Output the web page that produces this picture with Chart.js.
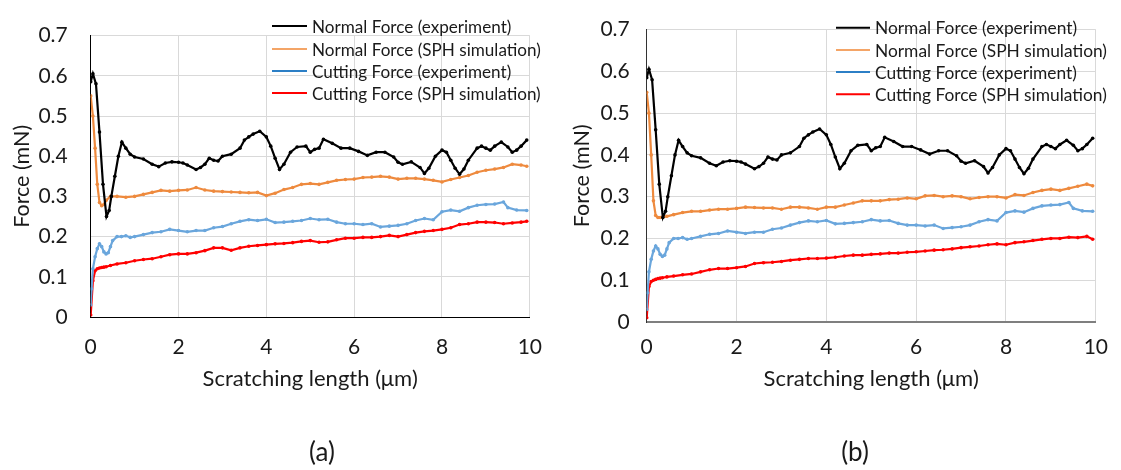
<!DOCTYPE html>
<html>
<head>
<meta charset="utf-8">
<script src="https://cdn.jsdelivr.net/npm/chart.js@4.4.1/dist/chart.umd.min.js"></script>
<style>
  body { margin: 0; background: #fff; }
  #wrap { position: relative; width: 1121px; height: 470px; overflow: hidden; }
  canvas { position: absolute; top: 0; }
  .tag { position: absolute; font-family: Lato, sans-serif; font-size: 26px; color: #1a1a1a; transform: translate(-50%, -50%); }
</style>
</head>
<body>
<div id="wrap">
  <canvas id="chartA" width="560" height="470" style="left:0"></canvas>
  <canvas id="chartB" width="561" height="470" style="left:560px"></canvas>
  <div class="tag" style="left:322px; top:451px">(a)</div>
  <div class="tag" style="left:855px; top:451px">(b)</div>
</div>
<script>
// Series labels
const labels = [
  "Normal Force (experiment)",
  "Normal Force (SPH simulation)",
  "Cutting Force (experiment)",
  "Cutting Force (SPH simulation)",
];

// Normal force, experiment (same run on both panels)
const normalExpX = [0, 0.05, 0.12, 0.2, 0.28, 0.36, 0.42, 0.47, 0.55, 0.63, 0.71, 0.8, 0.9, 1.0, 1.2, 1.4, 1.55, 1.7, 1.85, 2.0,
  2.1, 2.2, 2.4, 2.5, 2.6, 2.7, 2.8, 2.9, 3.0, 3.2, 3.4, 3.5, 3.6, 3.7, 3.85, 4.0, 4.1, 4.2, 4.3, 4.4,
  4.55, 4.7, 4.9, 5.0, 5.1, 5.2, 5.3, 5.5, 5.7, 5.9, 6.1, 6.3, 6.5, 6.7, 6.9, 7.0, 7.1, 7.3, 7.5, 7.6,
  7.7, 7.85, 8.0, 8.1, 8.2, 8.3, 8.4, 8.5, 8.6, 8.8, 8.9, 9.0, 9.1, 9.2, 9.35, 9.5, 9.6, 9.7, 9.8, 9.93];
const normalExpY = [0.585, 0.605, 0.58, 0.46, 0.33, 0.25, 0.265, 0.30, 0.35, 0.40, 0.435, 0.42, 0.405, 0.398, 0.393, 0.38, 0.374, 0.383, 0.386, 0.385,
  0.383, 0.378, 0.367, 0.372, 0.38, 0.395, 0.39, 0.388, 0.40, 0.405, 0.42, 0.44, 0.448, 0.455, 0.462, 0.448, 0.425, 0.395, 0.367, 0.38,
  0.41, 0.423, 0.425, 0.41, 0.417, 0.42, 0.442, 0.432, 0.42, 0.42, 0.412, 0.402, 0.41, 0.41, 0.398, 0.385, 0.38, 0.386, 0.372, 0.357,
  0.37, 0.40, 0.415, 0.41, 0.39, 0.37, 0.355, 0.368, 0.39, 0.42, 0.425, 0.42, 0.415, 0.425, 0.435, 0.423, 0.41, 0.415, 0.425, 0.44];

// Cutting force, experiment (same run on both panels)
const cuttingExpX = [0, 0.02, 0.05, 0.1, 0.15, 0.2, 0.25, 0.3, 0.35, 0.4, 0.45, 0.5, 0.6, 0.7, 0.8, 0.9, 1.0,
  1.2, 1.4, 1.6, 1.8, 2.0, 2.2, 2.4, 2.6, 2.8, 3.0, 3.2, 3.4, 3.6, 3.8, 4.0, 4.2, 4.4, 4.6, 4.8, 5.0,
  5.2, 5.4, 5.6, 5.8, 6.0, 6.2, 6.4, 6.6, 6.8, 7.0, 7.2, 7.4, 7.6, 7.8, 8.0, 8.2, 8.4, 8.6, 8.8, 9.0,
  9.2, 9.4, 9.5, 9.7, 9.93];
const cuttingExpY = [0.03, 0.07, 0.12, 0.15, 0.17, 0.182, 0.175, 0.162, 0.157, 0.16, 0.175, 0.19, 0.2, 0.2, 0.202, 0.198, 0.2,
  0.205, 0.21, 0.212, 0.218, 0.215, 0.212, 0.215, 0.215, 0.222, 0.225, 0.232, 0.238, 0.242, 0.24, 0.243, 0.235, 0.236, 0.238, 0.24, 0.245,
  0.242, 0.243, 0.236, 0.232, 0.232, 0.23, 0.232, 0.224, 0.226, 0.228, 0.232, 0.24, 0.245, 0.242, 0.262, 0.266, 0.263, 0.272, 0.278, 0.28,
  0.281, 0.286, 0.272, 0.266, 0.265];

// SPH simulations share one x grid
const sphX = [0, 0.05, 0.1, 0.15, 0.2, 0.25, 0.3, 0.35, 0.45,
  0.6, 0.8, 1.0, 1.2, 1.4, 1.6, 1.8, 2.0, 2.2, 2.4, 2.6, 2.8, 3.0, 3.2, 3.4, 3.6, 3.8, 4.0,
  4.2, 4.4, 4.6, 4.8, 5.0, 5.2, 5.4, 5.6, 5.8, 6.0, 6.2, 6.4, 6.6, 6.8, 7.0, 7.2, 7.4, 7.6,
  7.8, 8.0, 8.2, 8.4, 8.6, 8.8, 9.0, 9.2, 9.4, 9.6, 9.8, 9.93];

// panel (a)
const normalSphA = [0.55, 0.50, 0.42, 0.33, 0.285, 0.277, 0.28, 0.29, 0.30,
  0.30, 0.298, 0.30, 0.305, 0.31, 0.315, 0.313, 0.315, 0.316, 0.322, 0.316, 0.313, 0.312, 0.311, 0.31, 0.309, 0.31, 0.302,
  0.308, 0.317, 0.322, 0.33, 0.332, 0.33, 0.335, 0.34, 0.342, 0.343, 0.347, 0.348, 0.35, 0.348, 0.343, 0.345, 0.345, 0.343,
  0.34, 0.336, 0.342, 0.347, 0.352, 0.36, 0.365, 0.368, 0.372, 0.38, 0.378, 0.375];
const cuttingSphA = [0.005, 0.09, 0.115, 0.12, 0.122, 0.123, 0.124, 0.125, 0.128,
  0.132, 0.135, 0.14, 0.143, 0.145, 0.15, 0.155, 0.157, 0.157, 0.16, 0.165, 0.172, 0.172, 0.166, 0.172, 0.176, 0.178, 0.18,
  0.182, 0.183, 0.185, 0.188, 0.19, 0.186, 0.187, 0.192, 0.196, 0.196, 0.198, 0.198, 0.2, 0.203, 0.2, 0.205, 0.21, 0.213,
  0.215, 0.218, 0.222, 0.23, 0.232, 0.236, 0.236, 0.235, 0.232, 0.234, 0.236, 0.238];

// panel (b)
const normalSphB = [0.55, 0.50, 0.40, 0.29, 0.255, 0.25, 0.25, 0.251, 0.253,
  0.257, 0.262, 0.265, 0.265, 0.268, 0.27, 0.27, 0.272, 0.275, 0.274, 0.273, 0.273, 0.27, 0.275, 0.275, 0.273, 0.27, 0.275,
  0.275, 0.28, 0.285, 0.29, 0.29, 0.29, 0.293, 0.294, 0.297, 0.295, 0.302, 0.303, 0.3, 0.302, 0.3, 0.295, 0.298, 0.3,
  0.3, 0.297, 0.305, 0.303, 0.31, 0.315, 0.318, 0.315, 0.32, 0.325, 0.33, 0.326];
const cuttingSphB = [0.01, 0.085, 0.097, 0.1, 0.102, 0.104, 0.105, 0.106, 0.108,
  0.11, 0.113, 0.115, 0.12, 0.125, 0.128, 0.128, 0.13, 0.133, 0.14, 0.142, 0.143, 0.145, 0.148, 0.15, 0.152, 0.152, 0.153,
  0.155, 0.158, 0.16, 0.16, 0.162, 0.163, 0.165, 0.165, 0.167, 0.168, 0.17, 0.172, 0.173, 0.175, 0.178, 0.18, 0.182, 0.185,
  0.187, 0.185, 0.19, 0.192, 0.195, 0.198, 0.2, 0.2, 0.203, 0.202, 0.205, 0.198];

const lineColors = ["#000000", "#ee8a3e", "#6aa6dc", "#ff0000"];
const legendColors = ["#000000", "#f4a567", "#2c7fc6", "#ff0000"];

const FONT = "Lato, 'Open Sans', sans-serif";
const TEXT = "#1a1a1a";

function pts(xs, ys) {
  return xs.map((x, i) => ({ x: x, y: ys[i] }));
}

function series(i, data) {
  return {
    label: labels[i],
    data: data,
    borderColor: lineColors[i],
    backgroundColor: lineColors[i],
    pointBackgroundColor: lineColors[i],
    borderWidth: 2.2,
    pointRadius: 1.8,
    pointBorderWidth: 0,
    tension: 0,
  };
}

// legend drawn inside the plot, like the Excel one
const refLegend = {
  id: "refLegend",
  afterDraw(chart, args, opts) {
    const ctx = chart.ctx;
    ctx.save();
    // fit the longest label to the width it has in the picture
    ctx.font = "18px " + FONT;
    const widest = Math.max(...chart.data.datasets.map((d) => ctx.measureText(d.label).width));
    const size = 18 * opts.textWidth / widest;
    ctx.font = size.toFixed(2) + "px " + FONT;
    ctx.textBaseline = "middle";
    ctx.textAlign = "left";
    chart.data.datasets.forEach((ds, i) => {
      const y = opts.rows[i];
      ctx.strokeStyle = legendColors[i];
      ctx.lineWidth = 2;
      ctx.beginPath();
      ctx.moveTo(opts.x1, y);
      ctx.lineTo(opts.x2, y);
      ctx.stroke();
      ctx.fillStyle = TEXT;
      ctx.fillText(ds.label, opts.tx, y + 1);
    });
    ctx.restore();
  },
};

function buildChart(id, lay, datasets) {
  return new Chart(document.getElementById(id), {
    type: "line",
    data: { datasets: datasets },
    options: {
      responsive: false,
      animation: false,
      devicePixelRatio: 1,
      layout: { padding: { left: 0, top: lay.top, right: lay.right, bottom: 50 } },
      plugins: {
        legend: { display: false },
        tooltip: { enabled: false },
        refLegend: lay.legend,
      },
      scales: {
        x: {
          type: "linear",
          min: 0,
          max: 10,
          afterFit: (s) => { s.height = lay.xh; },
          ticks: { stepSize: 2, padding: lay.xpad, color: TEXT, font: { family: FONT, size: 21 } },
          grid: { color: "#d9d9d9", drawTicks: false },
          border: { color: lay.xborder, width: lay.xbw },
          title: {
            display: true,
            text: "Scratching length (μm)",
            color: TEXT,
            font: { family: FONT, size: 22 },
            padding: { top: 0, bottom: 28 },
          },
        },
        y: {
          min: 0,
          max: 0.7,
          afterFit: (s) => { s.width = lay.yw; },
          ticks: {
            stepSize: 0.1,
            padding: lay.ypad,
            color: TEXT,
            font: { family: FONT, size: 21 },
            callback: (v) => String(+v.toFixed(1)),
          },
          grid: { color: "#d9d9d9", drawTicks: false },
          border: { color: lay.yborder, width: 1 },
          title: {
            display: true,
            text: "Force (mN)",
            color: TEXT,
            font: { family: FONT, size: 21.5 },
            padding: { top: 9, bottom: 0 },
          },
        },
      },
    },
    plugins: [refLegend],
  });
}

buildChart("chartA", {
  top: 17, right: 18, xh: 103, yw: 90.7, xpad: 18, ypad: 23,
  xborder: "#000000", xbw: 1, yborder: "#000000",
  legend: { x1: 272, x2: 307, tx: 312, textWidth: 229, rows: [26, 49, 71, 93] },
}, [
  series(0, pts(normalExpX, normalExpY)),
  series(1, pts(sphX, normalSphA)),
  series(2, pts(cuttingExpX, cuttingExpY)),
  series(3, pts(sphX, cuttingSphA)),
]);

buildChart("chartB", {
  top: 18.3, right: 13, xh: 98, yw: 86.7, xpad: 13, ypad: 17,
  xborder: "#7f7f7f", xbw: 2, yborder: "#333333",
  legend: { x1: 276, x2: 310, tx: 315, textWidth: 232, rows: [27.7, 50, 72, 94.3] },
}, [
  series(0, pts(normalExpX, normalExpY)),
  series(1, pts(sphX, normalSphB)),
  series(2, pts(cuttingExpX, cuttingExpY)),
  series(3, pts(sphX, cuttingSphB)),
]);
</script>
</body>
</html>
